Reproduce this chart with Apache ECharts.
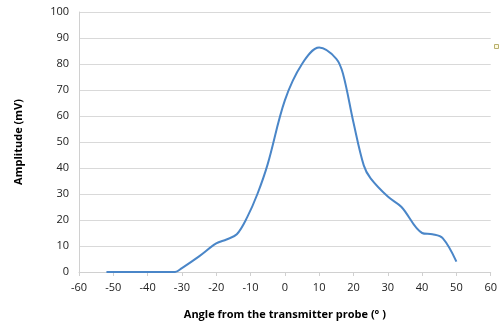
<!DOCTYPE html>
<html>
<head>
<meta charset="utf-8">
<script src="https://cdn.jsdelivr.net/npm/echarts@6/dist/echarts.min.js"></script>
<style>
  html, body { margin: 0; padding: 0; background: #fff; }
  #chart { width: 500px; height: 325px; }
</style>
</head>
<body>
<div id="chart"></div>
<script>
// Received amplitude versus angle from the transmitter probe
const angles = [-52, -45, -40, -35, -32, -30, -25, -20, -17, -14, -11, -8, -5, 0, 5, 10, 15, 17, 20, 23, 25, 30, 34, 40, 43, 46, 50];
const amplitudes = [0, 0, 0, 0, 0, 1.5, 6, 11, 12.5, 14.5, 21, 30, 41.5, 66, 80, 86.3, 82, 76, 57.5, 41, 36, 29, 25, 15, 14.5, 13, 4];
const xTicks = [-60, 60, 10];   // min, max, step
const yTicks = [0, 100, 10];

const points = angles.map((a, i) => [a, amplitudes[i]]);

const chart = echarts.init(document.getElementById('chart'), null, { renderer: 'canvas' });
const font = '"Open Sans", "Liberation Sans", sans-serif';

chart.setOption({
  animation: false,
  backgroundColor: '#ffffff',
  grid: { left: 79, right: 6, top: 12, bottom: 52, containLabel: false },
  xAxis: {
    type: 'value',
    min: xTicks[0], max: xTicks[1], interval: xTicks[2],
    name: 'Angle from the transmitter probe (° )',
    nameLocation: 'middle',
    nameGap: 37,
    nameTextStyle: { fontFamily: font, fontSize: 11, fontWeight: 'bold', color: '#000' },
    axisLine: { show: true, onZero: false, lineStyle: { color: '#d0d0d0', width: 1 } },
    axisTick: { show: true, length: 4, lineStyle: { color: '#d0d0d0' } },
    axisLabel: { fontFamily: font, fontSize: 11, color: '#222', margin: 10 },
    splitLine: { show: false }
  },
  yAxis: {
    type: 'value',
    min: yTicks[0], max: yTicks[1], interval: yTicks[2],
    name: 'Amplitude (mV)',
    nameLocation: 'middle',
    nameRotate: 90,
    nameGap: 55,
    nameTextStyle: { fontFamily: font, fontSize: 11, fontWeight: 'bold', color: '#000' },
    axisLine: { show: true, onZero: false, lineStyle: { color: '#d0d0d0', width: 1 } },
    axisTick: { show: false },
    axisLabel: { fontFamily: font, fontSize: 11, color: '#222', margin: 10 },
    splitLine: { show: true, lineStyle: { color: '#d9d9d9', width: 1 } }
  },
  series: [{
    type: 'line',
    data: points,
    smooth: 0.35,
    showSymbol: false,
    lineStyle: { color: '#4a86c8', width: 2 },
    z: 3
  }],
  graphic: [{
    type: 'rect',
    left: 494, top: 44,
    shape: { width: 4, height: 4 },
    style: { fill: '#fffbe0', stroke: '#b8b070', lineWidth: 1 }
  }]
});
</script>
</body>
</html>
